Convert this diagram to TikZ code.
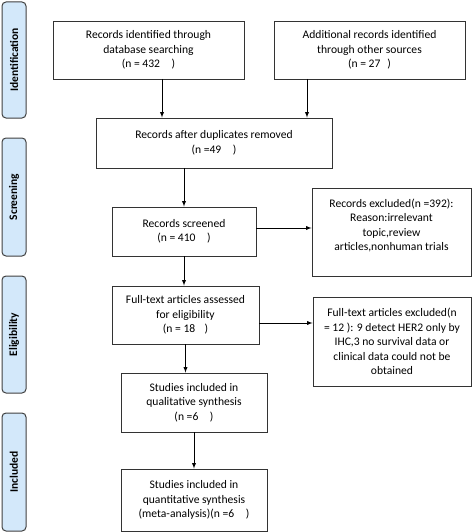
\documentclass[tikz,border=0pt]{standalone}
\usepackage{fontspec}
\setmainfont{Carlito}
\usetikzlibrary{arrows}

\begin{document}
\begin{tikzpicture}[x=1pt,y=-1pt,>=latex,
	box/.style={draw=black!80,line width=0.9pt,align=center,inner sep=2pt,
		font=\fontsize{11.6}{14.5}\selectfont},
	phase/.style={draw=black!75,line width=1pt,fill=phasefill,rounded corners=4pt,
		rotate=90,minimum height=24pt,inner sep=0pt,
		font=\fontsize{11.5}{13}\selectfont\bfseries}]
\definecolor{phasefill}{RGB}{211,232,250}
\useasboundingbox (0,0) rectangle (472,532);
% phases
\node[phase,minimum width=116pt] (id) at (14,60) {Identification};
\node[phase,minimum width=118pt] (scr) at (14,197) {Screening};
\node[phase,minimum width=117pt] (elig) at (14,334.5) {Eligibility};
\node[phase,minimum width=118pt] (incl) at (14,472) {Included};
% boxes
\node[box,minimum width=191pt,minimum height=58pt] (db) at (148.5,50)
	{Records identified through\\database searching\\(n = 432\hspace{1em})};
\node[box,minimum width=191pt,minimum height=58pt] (add) at (369.5,50)
	{Additional records identified\\through other sources\\(n = 27\hspace{0.6em})};
\node[box,minimum width=236pt,minimum height=50pt] (dup) at (214,143)
	{Records after duplicates removed\\(n =49\hspace{1em})};
\node[box,minimum width=144pt,minimum height=49pt] (scrd) at (184,231.5)
	{Records screened\\(n = 410\hspace{1em})};
\node[box,minimum width=159pt,minimum height=88pt] (exc) at (391.5,232)
	{Records excluded(n =392):\\Reason:irrelevant\\topic,review\\articles,nonhuman trials\\\mbox{}};
\node[box,minimum width=147pt,minimum height=58pt] (full) at (185.5,315)
	{Full-text articles assessed\\for eligibility\\(n = 18\hspace{0.8em})};
\node[box,minimum width=158pt,minimum height=89pt] (fexc) at (392,341.5)
	{Full-text articles excluded(n\\= 12 ): 9 detect HER2 only by\\IHC,3 no survival data or\\clinical data could not be\\obtained};
\node[box,minimum width=146pt,minimum height=59pt] (qual) at (194,402.5)
	{Studies included in\\qualitative synthesis\\(n =6\hspace{1em})};
\node[box,minimum width=146pt,minimum height=62pt] (quan) at (194,500)
	{Studies included in\\quantitative synthesis\\(meta-analysis)(n =6\hspace{1em})};
% arrows
\coordinate (a1) at (162,79);
\coordinate (a2) at (307,79);
\coordinate (s1) at (256,228);
\coordinate (f1) at (259,323);
\draw[->,line width=0.9pt] (a1) -- (a1 |- dup.north);
\draw[->,line width=0.9pt] (a2) -- (a2 |- dup.north);
\draw[->,line width=0.9pt] (scrd.north |- dup.south) -- (scrd.north);
\draw[->,line width=0.9pt] (s1) -- (s1 -| exc.west);
\draw[->,line width=0.9pt] (scrd.south) -- (scrd.south |- full.north);
\draw[->,line width=0.9pt] (f1) -- (f1 -| fexc.west);
\draw[->,line width=0.9pt] (full.south) -- (full.south |- qual.north);
\draw[->,line width=0.9pt] (qual.south) -- (quan.north);
\end{tikzpicture}
\end{document}
